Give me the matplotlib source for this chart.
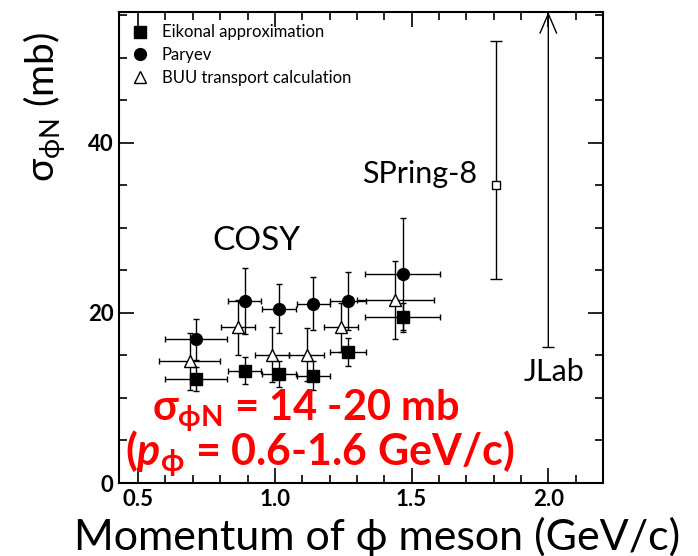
import matplotlib
matplotlib.use('Agg')
import matplotlib.pyplot as plt
from matplotlib.lines import Line2D
from matplotlib.ticker import MultipleLocator, FormatStrFormatter

plt.rcParams['font.family'] = ['Lato', 'DejaVu Sans']
plt.rcParams['mathtext.fontset'] = 'custom'
plt.rcParams['mathtext.rm'] = 'Lato'
plt.rcParams['mathtext.bf'] = 'Lato:bold'
plt.rcParams['mathtext.it'] = 'Lato:italic'
plt.rcParams['mathtext.bfit'] = 'Lato:italic:bold'
plt.rcParams['mathtext.fallback'] = 'stixsans'

# COSY points: phi momentum (GeV/c), cross section (mb) and errors
eik_p = [0.713, 0.890, 1.016, 1.141, 1.267, 1.467]
eik_sig = [12.2, 13.2, 12.8, 12.6, 15.4, 19.5]
eik_dsig = [1.4, 1.6, 1.5, 1.7, 1.6, 1.7]

par_p = [0.713, 0.890, 1.016, 1.141, 1.267, 1.467]
par_sig = [16.9, 21.4, 20.5, 21.1, 21.4, 24.6]
par_dsig = [2.4, 3.9, 2.9, 3.1, 3.4, 6.6]

dp_cosy = [0.113, 0.060, 0.062, 0.060, 0.065, 0.138]

buu_p = [0.688, 0.864, 0.989, 1.116, 1.241, 1.441]
buu_sig = [14.3, 18.3, 15.1, 15.1, 18.3, 21.5]
buu_dsig = [3.4, 3.2, 3.2, 3.1, 2.9, 4.6]
buu_dp = [0.112, 0.062, 0.063, 0.063, 0.062, 0.140]

# SPring-8 (LEPS) point with asymmetric error
sp8_p = [1.809]
sp8_sig = [35.0]
sp8_err_lo = [11.0]
sp8_err_hi = [17.0]

# JLab lower limit
jlab_p = 2.0
jlab_sig_min = 16.0

fig = plt.figure(figsize=(6.98, 5.56), dpi=100)
ax = fig.add_axes([119 / 698, 1 - 483 / 556, 484 / 698, 471 / 556])
ax.set_xlim(0.43, 2.2)
ax.set_ylim(0, 55.4)

eb = dict(color='black', lw=1.0, capsize=2.5, capthick=1.0, ls='none')
ax.errorbar(buu_p, buu_sig, yerr=buu_dsig, xerr=buu_dp, fmt='^', ms=8,
            mfc='white', mec='black', mew=1.0, zorder=3, **eb)
ax.errorbar(eik_p, eik_sig, yerr=eik_dsig, xerr=dp_cosy, fmt='s', ms=8,
            mfc='black', mec='black', zorder=4, **eb)
ax.errorbar(par_p, par_sig, yerr=par_dsig, xerr=dp_cosy, fmt='o', ms=8.5,
            mfc='black', mec='black', zorder=4, **eb)
ax.errorbar(sp8_p, sp8_sig, yerr=[sp8_err_lo, sp8_err_hi], fmt='s', ms=6,
            mfc='white', mec='black', mew=1.0, color='black', lw=1.0,
            capsize=4, capthick=1.0, zorder=4)

# JLab: lower limit drawn as an arrow up to the top of the frame
ax.annotate('', xy=(jlab_p, ax.get_ylim()[1]), xytext=(jlab_p, jlab_sig_min),
            arrowprops=dict(arrowstyle='->,head_length=0.7,head_width=0.3',
                            color='black', lw=1.0, mutation_scale=20,
                            shrinkA=0, shrinkB=0))
ax.plot([jlab_p], [jlab_sig_min], marker='_', ms=8, mew=1.0, color='black')

# axis styling
ax.xaxis.set_major_locator(MultipleLocator(0.5))
ax.xaxis.set_minor_locator(MultipleLocator(0.1))
ax.xaxis.set_major_formatter(FormatStrFormatter('%.1f'))
ax.yaxis.set_major_locator(MultipleLocator(20))
ax.yaxis.set_minor_locator(MultipleLocator(5))
ax.tick_params(which='both', direction='in', top=True, right=True,
               width=1.2, labelsize=16, pad=4)
ax.tick_params(which='major', length=11)
ax.tick_params(which='minor', length=6)
for lab in ax.get_xticklabels() + ax.get_yticklabels():
    lab.set_fontweight('bold')
for s in ax.spines.values():
    s.set_linewidth(1.5)

# legend
handles = [
    Line2D([], [], marker='s', ls='none', ms=8, mfc='black', mec='black'),
    Line2D([], [], marker='o', ls='none', ms=8.5, mfc='black', mec='black'),
    Line2D([], [], marker='^', ls='none', ms=8, mfc='white', mec='black'),
]
ax.legend(handles, ['Eikonal approximation', 'Paryev', 'BUU transport calculation'],
          loc='upper left', bbox_to_anchor=(0.0, 1.0), frameon=False,
          fontsize=12, handlelength=1.0, handletextpad=0.8,
          labelspacing=0.4, borderpad=0.45, borderaxespad=0.3)

# experiment labels
ax.text(0.934, 28.5, 'COSY', fontsize=24, ha='center', va='center')
ax.text(1.739, 36.4, 'SPring-8', fontsize=22, ha='right', va='center')
ax.text(2.022, 13.1, 'JLab', fontsize=22, ha='center', va='center')

# axis titles
fig.text(377 / 698, 1 - 550 / 556, r'Momentum of ϕ meson (GeV/c)',
         fontsize=31, ha='center', va='baseline',
         family=['Lato', 'DejaVu Sans'])
fig.text(45 / 698, 1 - 107 / 556, r'$\mathrm{σ}_{\mathrm{ϕN}}$ (mb)',
         fontsize=28, rotation=90, ha='center', va='center')

# summary
fig.text(152 / 698, 1 - 420 / 556, r'$\mathbf{σ}_{\mathbf{ϕN}}$ = 14 -20 mb',
         fontsize=30, color='red', fontweight='bold', ha='left', va='baseline')
fig.text(125 / 698, 1 - 465 / 556, r'($\mathbfit{p}_{\mathbf{ϕ}}$ = 0.6-1.6 GeV/c)',
         fontsize=31, color='red', fontweight='bold', ha='left', va='baseline')

fig.savefig('out.png', dpi=100)
